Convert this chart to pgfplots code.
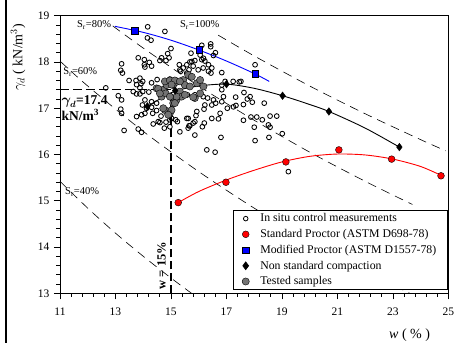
\documentclass[border=0pt]{standalone}
\usepackage{pgfplots}
\pgfplotsset{compat=1.18}
\usepackage{fontspec}
\setmainfont{Liberation Serif}
\usepackage{amsmath}
\usepackage{bm}

\begin{document}
\begin{tikzpicture}
\useasboundingbox (-60pt,-49.7pt) rectangle (399pt,293.3pt);
\draw[line width=2.6pt] (-54pt,-49.7pt) -- (-54pt,293.3pt);
\begin{axis}[
  scale only axis, width=388.5pt, height=277.6pt,
  xmin=11, xmax=25, ymin=13, ymax=19,
  xtick={11,13,...,25}, ytick={13,14,...,19},
  minor tick num=4,
  tick align=outside, xtick pos=lower, ytick pos=left,
  major tick length=6pt, minor tick length=3.5pt,
  tick style={black, line width=0.8pt},
  axis line style={line width=0.9pt},
  /pgf/number format/assume math mode=true,
  ticklabel style={font=\fontsize{11.5}{13}\selectfont},
  xticklabel style={yshift=-5pt},
  yticklabel style={xshift=-1pt},
  xlabel={\textit{w} ( \% )},
  ylabel={$\gamma_d$ ( kN/m$^3$)},
  label style={font=\fontsize{14}{16}\selectfont},
  xlabel style={at={(axis description cs:0.9,-0.151)}, anchor=center},
  ylabel style={at={(axis description cs:-0.108,0.85)}, anchor=center},
  legend cell align=left,
  legend style={at={(axis description cs:0.998,0.011)}, anchor=south east,
    font=\fontsize{11.8}{13.5}\selectfont, draw=black, line width=0.8pt,
    row sep=2pt, column sep=9pt, inner xsep=9pt, inner ysep=1.5pt},
]
% legend entries
\addlegendimage{only marks, mark=o, mark size=2.3pt, black, line width=0.8pt, mark options={fill=white}}
\addlegendentry{In situ control measurements}
\addlegendimage{only marks, mark=*, mark size=3.4pt, mark options={fill=red, draw=black, line width=0.4pt}}
\addlegendentry{Standard Proctor (ASTM D698-78)}
\addlegendimage{only marks, mark=square*, mark size=3.3pt, mark options={fill=blue, draw=black, line width=0.4pt}}
\addlegendentry{Modified Proctor (ASTM D1557-78)}
\addlegendimage{only marks, mark=diamond*, mark size=3.8pt, mark options={fill=black, draw=black}}
\addlegendentry{Non standard compaction}
\addlegendimage{only marks, mark=*, mark size=3.6pt, mark options={fill=black!55, draw=black, line width=0.4pt}}
\addlegendentry{Tested samples}

% saturation lines (Gs = 2.77)
\addplot[forget plot, black, line width=0.6pt, dash pattern=on 9pt off 6pt, smooth] coordinates {
 (16.7,18.58) (18,18.13) (20,17.48) (22,16.88) (24,16.32) (24.9,16.08)};
\addplot[forget plot, black, line width=0.6pt, dash pattern=on 9pt off 6pt, smooth] coordinates {
 (12.9,18.78) (14,18.30) (16,17.48) (18,16.74) (20,16.05) (22,15.42) (23.7,14.92)};
\addplot[forget plot, black, line width=0.6pt, dash pattern=on 9pt off 6pt, smooth] coordinates {
 (11.0,18.02) (12,17.48) (14,16.50) (16,15.63) (18,14.84) (20,14.13) (22,13.48) (23.61,13.0)};
\addplot[forget plot, black, line width=0.6pt, dash pattern=on 9pt off 6pt, smooth] coordinates {
 (11,15.42) (12,14.84) (13,14.30) (14,13.80) (15,13.33) (15.74,13.0)};

% w = 15 %, gamma_d = 17.4 lines
\addplot[forget plot, black, line width=1.5pt, dash pattern=on 9pt off 4pt] coordinates {(11,17.4) (15,17.4)};
\addplot[forget plot, black, line width=1.5pt, dash pattern=on 8pt off 4pt] coordinates {(15,13) (15,17.4)};

% in situ control measurements
\addplot[forget plot, only marks, mark=o, mark size=2.4pt, black, line width=0.85pt, mark options={fill=white}] table {
x y
14.16 18.76
14.78 18.66
14.15 18.52
14.28 18.47
15.00 18.29
16.11 18.36
16.43 18.39
16.43 18.33
16.53 18.14
15.72 18.19
18.03 17.94
14.88 18.18
14.66 18.09
14.93 18.09
14.60 18.03
14.82 18.03
13.82 18.09
14.04 18.05
14.22 17.99
14.04 17.94
14.30 17.91
14.06 17.89
13.22 17.96
13.19 17.82
13.25 17.76
15.30 17.94
15.44 17.87
15.57 17.94
15.35 17.80
15.57 17.76
15.86 18.03
16.11 18.05
16.22 18.02
16.35 17.94
16.47 17.87
16.44 17.76
16.83 17.77
15.68 18.00
15.80 17.91
15.65 17.83
15.98 17.83
16.16 17.87
16.35 17.80
15.32 17.83
15.75 18.01
16.05 18.15
16.17 18.08
16.60 18.20
13.49 17.60
13.74 17.60
13.88 17.65
13.98 17.58
13.92 17.53
13.76 17.51
13.88 17.44
12.65 17.44
14.96 17.63
17.24 17.58
17.46 17.57
16.95 17.58
17.52 17.58
16.83 17.50
16.83 17.40
16.89 17.25
16.83 17.14
17.63 17.34
17.85 17.25
17.75 17.20
17.93 17.13
17.33 17.24
17.03 17.00
17.25 17.03
17.34 17.06
17.61 17.08
18.36 17.11
13.10 17.27
13.22 17.18
13.19 16.98
13.22 16.89
13.31 16.52
13.82 16.55
13.94 16.48
13.76 16.82
13.94 16.86
14.06 16.89
13.97 17.07
14.12 17.00
14.30 17.02
14.34 16.89
14.48 16.95
14.60 16.69
14.82 16.70
14.96 16.75
15.23 16.71
15.32 16.49
15.62 16.57
15.57 16.78
13.88 17.31
13.98 17.36
13.64 17.36
13.76 17.31
14.06 17.18
14.30 17.14
14.48 17.11
14.30 17.55
14.50 17.62
14.20 17.35
14.36 16.66
14.54 16.71
14.64 16.83
14.76 16.57
14.96 16.60
15.02 16.78
15.17 16.75
15.68 16.62
15.86 16.71
16.47 16.78
16.77 16.89
15.59 17.29
15.86 17.29
16.16 17.25
16.32 17.22
16.53 17.18
16.47 17.07
16.61 17.11
16.22 17.07
16.19 16.98
15.93 16.93
15.90 16.84
15.62 16.78
15.80 16.68
15.65 16.62
16.20 16.68
16.13 16.60
15.86 16.42
16.80 16.37
16.29 16.10
16.59 16.05
16.71 16.77
17.61 16.74
17.88 16.81
18.09 16.81
18.29 16.75
18.51 16.64
18.57 16.83
18.81 16.83
18.57 16.59
18.00 16.59
18.03 16.30
19.01 16.45
18.53 16.37
19.23 15.63
};

% tested samples
\addplot[forget plot, only marks, mark=*, mark size=3.6pt, mark options={fill=black!55, draw=black, line width=0.4pt}] table {
x y
14.48 17.43
14.72 17.40
14.66 17.25
14.81 17.32
15.08 17.50
15.20 17.57
15.44 17.61
15.50 17.50
15.68 17.47
15.93 17.54
16.05 17.61
16.17 17.47
15.86 17.22
16.05 17.32
15.20 17.18
15.08 17.11
14.78 16.96
14.96 16.89
15.32 17.36
15.38 17.25
14.84 17.50
15.62 17.72
15.75 17.68
15.20 17.25
14.78 17.58
14.96 17.60
15.14 17.60
14.54 17.42
15.02 17.51
15.32 17.58
14.60 17.32
14.96 17.25
15.14 17.11
15.50 17.29
14.72 17.00
15.02 16.96
14.90 16.86
15.80 17.24
};

% modified proctor
\addplot[forget plot, blue, line width=0.9pt, smooth] coordinates {
 (12.98,18.77) (14,18.64) (15,18.47) (16,18.26) (17,18.02) (18,17.75) (18.54,17.58)};
\addplot[forget plot, only marks, mark=square*, mark size=3.3pt, mark options={fill=blue, draw=black, line width=0.4pt}] coordinates {
 (13.70,18.68) (16.02,18.26) (18.03,17.74)};

% non standard compaction
\addplot[forget plot, black, line width=0.9pt, smooth] coordinates {
 (14.15,17.04) (14.6,17.20) (15.15,17.37) (16.0,17.48) (17.0,17.52) (18.0,17.43) (19.02,17.27) (19.9,17.10) (20.69,16.93) (22.0,16.57) (23.23,16.16)};
\addplot[forget plot, only marks, mark=diamond*, mark size=3.8pt, black] coordinates {
 (14.15,17.04) (15.15,17.38) (17.0,17.52) (19.02,17.27) (20.69,16.93) (23.23,16.16)};

% standard proctor
\addplot[forget plot, red, line width=0.9pt, smooth] coordinates {
 (15.26,14.96) (16.0,15.20) (17.0,15.45) (18.0,15.66) (19.0,15.84) (20.0,15.96) (21.0,16.01) (22.0,15.99) (23.0,15.90) (24.0,15.74) (24.8,15.53)};
\addplot[forget plot, only marks, mark=*, mark size=3.4pt, mark options={fill=red, draw=black, line width=0.4pt}] coordinates {
 (15.26,14.96) (16.98,15.40) (19.14,15.84) (21.05,16.10) (22.95,15.90) (24.73,15.54)};

% annotations
\node[anchor=west, font=\fontsize{10.5}{12}\selectfont, inner sep=0pt] at (axis cs:11.61,18.80) {S$_\mathrm{r}$=80\%};
\node[anchor=west, font=\fontsize{10.5}{12}\selectfont, inner sep=0pt] at (axis cs:15.32,18.80) {S$_\mathrm{r}$=100\%};
\node[anchor=west, font=\fontsize{10.5}{12}\selectfont, inner sep=0pt] at (axis cs:11.11,17.78) {S$_\mathrm{r}$=60\%};
\node[anchor=west, font=\fontsize{10.5}{12}\selectfont, inner sep=0pt] at (axis cs:11.18,15.19) {S$_\mathrm{r}$=40\%};
\node[anchor=north west, align=left, inner sep=0pt, font=\fontsize{13.5}{16}\selectfont\bfseries] at (axis cs:11.05,17.27) {$\bm{\gamma_d}$=17.4\\kN/m$^\mathbf{3}$};
\node[rotate=90, font=\fontsize{12.5}{14}\selectfont\bfseries, inner sep=0pt] at (axis cs:14.66,13.60) {w = 15\%};
\end{axis}
\end{tikzpicture}
\end{document}
